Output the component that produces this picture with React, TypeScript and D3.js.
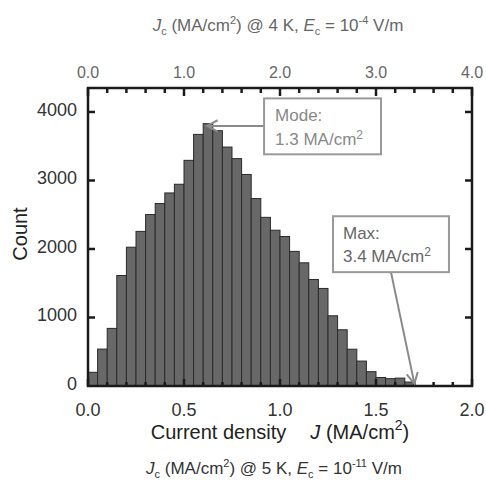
import React from "react";
import * as d3 from "d3";

// ---- data ----
const binStarts = [
  0.0, 0.05, 0.1, 0.15, 0.2, 0.25, 0.3, 0.35, 0.4, 0.45, 0.5, 0.55, 0.6, 0.65, 0.7, 0.75, 0.8,
  0.85, 0.9, 0.95, 1.0, 1.05, 1.1, 1.15, 1.2, 1.25, 1.3, 1.35, 1.4, 1.45, 1.5, 1.55, 1.6, 1.65,
];
const binWidth = 0.05;
const counts = [
  200, 539, 841, 1613, 2026, 2257, 2503, 2663, 2818, 2945, 3294, 3673, 3829, 3727, 3488, 3319,
  3088, 2736, 2462, 2274, 2182, 1965, 1798, 1555, 1424, 1025, 821, 537, 364, 209, 124, 107, 115, 58,
];
const bottomMajorTicks = [0, 0.5, 1.0, 1.5, 2.0];
const bottomTickLabels = ["0.0", "0.5", "1.0", "1.5", "2.0"];
const bottomMinorTicks = [0.1, 0.2, 0.3, 0.4, 0.6, 0.7, 0.8, 0.9, 1.1, 1.2, 1.3, 1.4, 1.6, 1.7, 1.8, 1.9];
const topMajorTicks = [0, 1, 2, 3, 4];
const topTickLabels = ["0.0", "1.0", "2.0", "3.0", "4.0"];
const topMinorTicks = [0.2, 0.4, 0.6, 0.8, 1.2, 1.4, 1.6, 1.8, 2.2, 2.4, 2.6, 2.8, 3.2, 3.4, 3.6, 3.8];
const yTicks = [0, 1000, 2000, 3000, 4000];
const yTickLabels = ["0", "1000", "2000", "3000", "4000"];

// annotations (data units of bottom x axis / count)
const modeLabel = ["Mode:", "1.3 MA/cm"];
const modeBox = { x0: 0.917, x1: 1.526, y0: 4198, y1: 3382 };
const modeTip = { x: 0.62, y: 3797 };
const maxLabel = ["Max:", "3.4 MA/cm"];
const maxBox = { x0: 1.276, x1: 1.88, y0: 2478, y1: 1662 };
const maxStart = { x: 1.578, y: 1662 };
const maxTip = { x: 1.7, y: 35 };

const W = 486;
const H = 480;
const FONT = "'Liberation Sans', Arial, Helvetica, sans-serif";

const x = d3.scaleLinear().domain([0, 2]).range([88, 472]);
const xTop = d3.scaleLinear().domain([0, 4]).range([88, 472]);
const y = d3.scaleLinear().domain([0, 4350]).range([386, 88]);

function ArrowHead({ tx, ty, fx, fy, color }: { tx: number; ty: number; fx: number; fy: number; color: string }) {
  const ang = Math.atan2(ty - fy, tx - fx);
  const len = 12;
  const spread = (28 * Math.PI) / 180;
  const p1 = [tx - len * Math.cos(ang - spread), ty - len * Math.sin(ang - spread)];
  const p2 = [tx - len * Math.cos(ang + spread), ty - len * Math.sin(ang + spread)];
  return (
    <path
      d={`M${p1[0]},${p1[1]} L${tx},${ty} L${p2[0]},${p2[1]}`}
      fill="none"
      stroke={color}
      strokeWidth={2}
    />
  );
}

export default function App() {
  const [x0, x1] = x.range();
  const [yb, yt] = y.range();
  const annColor = "#8a8a8a";
  return (
    <svg
      width={W}
      height={H}
      style={{ position: "absolute", left: 0, top: 0, background: "#fff" }}
      fontFamily={FONT}
    >
      <rect x={0} y={0} width={W} height={H} fill="#fff" />
      {/* bars */}
      {binStarts.map((b, i) => (
        <rect
          key={i}
          x={x(b)}
          y={y(counts[i])}
          width={x(b + binWidth) - x(b)}
          height={y(0) - y(counts[i])}
          fill="#686868"
          stroke="#2a2a2a"
          strokeWidth={1}
        />
      ))}

      {/* ticks bottom */}
      {bottomMinorTicks.map((t) => (
        <line key={"bm" + t} x1={x(t)} x2={x(t)} y1={yb} y2={yb - 4} stroke="#1a1a1a" strokeWidth={2.5} />
      ))}
      {bottomMajorTicks.map((t) => (
        <line key={"bM" + t} x1={x(t)} x2={x(t)} y1={yb} y2={yb - 7} stroke="#1a1a1a" strokeWidth={2.5} />
      ))}
      {/* ticks top */}
      {topMinorTicks.map((t) => (
        <line key={"tm" + t} x1={xTop(t)} x2={xTop(t)} y1={yt} y2={yt + 5} stroke="#1a1a1a" strokeWidth={2.5} />
      ))}
      {topMajorTicks.map((t) => (
        <line key={"tM" + t} x1={xTop(t)} x2={xTop(t)} y1={yt} y2={yt + 8} stroke="#1a1a1a" strokeWidth={2.5} />
      ))}
      {/* y ticks */}
      {yTicks.slice(1).map((t) => (
        <g key={"y" + t}>
          <line x1={x0} x2={x0 + 7} y1={y(t)} y2={y(t)} stroke="#1a1a1a" strokeWidth={2.5} />
          <line x1={x1} x2={x1 - 7} y1={y(t)} y2={y(t)} stroke="#1a1a1a" strokeWidth={2.5} />
        </g>
      ))}

      {/* frame */}
      <rect x={x0} y={yt} width={x1 - x0} height={yb - yt} fill="none" stroke="#1a1a1a" strokeWidth={2.5} />

      {/* tick labels */}
      {bottomMajorTicks.map((t, i) => (
        <text key={"bl" + t} x={x(t)} y={416} textAnchor="middle" fontSize={18} fill="#333">
          {bottomTickLabels[i]}
        </text>
      ))}
      {topMajorTicks.map((t, i) => (
        <text key={"tl" + t} x={xTop(t)} y={78} textAnchor="middle" fontSize={16} fill="#666">
          {topTickLabels[i]}
        </text>
      ))}
      {yTicks.map((t, i) => (
        <text key={"yl" + t} x={77} y={y(t) + 4} textAnchor="end" fontSize={18} fill="#333">
          {yTickLabels[i]}
        </text>
      ))}

      {/* axis titles */}
      <text x={20} y={234} transform="rotate(-90 20 234)" textAnchor="middle" dominantBaseline="central" fontSize={20} fill="#222">
        Count
      </text>
      <text x={280} y={439} textAnchor="middle" fontSize={20} fill="#222">
        <tspan>{"Current density"}</tspan>
        <tspan dx={24} fontStyle="italic">J</tspan>
        <tspan>{" (MA/cm"}</tspan>
        <tspan fontSize={14} dy={-9}>2</tspan>
        <tspan dy={9}>)</tspan>
      </text>
      <text x={278} y={31} textAnchor="middle" fontSize={17} fill="#666">
        <tspan fontStyle="italic">J</tspan>
        <tspan fontSize={11} dy={4}>c</tspan>
        <tspan dy={-4}>{" (MA/cm"}</tspan>
        <tspan fontSize={11} dy={-7}>2</tspan>
        <tspan dy={7}>{") @ 4 K, "}</tspan>
        <tspan fontStyle="italic">E</tspan>
        <tspan fontSize={11} dy={4}>c</tspan>
        <tspan dy={-4}>{" = 10"}</tspan>
        <tspan fontSize={11} dy={-7}>-4</tspan>
        <tspan dy={7}>{" V/m"}</tspan>
      </text>
      <text x={274} y={474} textAnchor="middle" fontSize={17} fill="#333">
        <tspan fontStyle="italic">J</tspan>
        <tspan fontSize={11} dy={4}>c</tspan>
        <tspan dy={-4}>{" (MA/cm"}</tspan>
        <tspan fontSize={11} dy={-7}>2</tspan>
        <tspan dy={7}>{") @ 5 K, "}</tspan>
        <tspan fontStyle="italic">E</tspan>
        <tspan fontSize={11} dy={4}>c</tspan>
        <tspan dy={-4}>{" = 10"}</tspan>
        <tspan fontSize={11} dy={-7}>-11</tspan>
        <tspan dy={7}>{" V/m"}</tspan>
      </text>

      {/* Mode annotation */}
      <line x1={x(modeBox.x0)} y1={y(modeTip.y)} x2={x(modeTip.x)} y2={y(modeTip.y)} stroke={annColor} strokeWidth={2} />
      <ArrowHead tx={x(modeTip.x)} ty={y(modeTip.y)} fx={x(modeBox.x0)} fy={y(modeTip.y)} color={annColor} />
      <rect
        x={x(modeBox.x0)}
        y={y(modeBox.y0)}
        width={x(modeBox.x1) - x(modeBox.x0)}
        height={y(modeBox.y1) - y(modeBox.y0)}
        fill="#fff"
        stroke="#999"
        strokeWidth={2}
      />
      <text x={x(modeBox.x0) + 11} y={y(modeBox.y0) + 23} fontSize={17} fill="#888">
        {modeLabel[0]}
      </text>
      <text x={x(modeBox.x0) + 11} y={y(modeBox.y0) + 46.5} fontSize={17} fill="#888">
        {modeLabel[1]}
        <tspan fontSize={12} dy={-6}>2</tspan>
      </text>

      {/* Max annotation */}
      <line x1={x(maxStart.x)} y1={y(maxStart.y)} x2={x(maxTip.x)} y2={y(maxTip.y)} stroke={annColor} strokeWidth={2} />
      <ArrowHead tx={x(maxTip.x)} ty={y(maxTip.y)} fx={x(maxStart.x)} fy={y(maxStart.y)} color={annColor} />
      <rect
        x={x(maxBox.x0)}
        y={y(maxBox.y0)}
        width={x(maxBox.x1) - x(maxBox.x0)}
        height={y(maxBox.y1) - y(maxBox.y0)}
        fill="#fff"
        stroke="#999"
        strokeWidth={2}
      />
      <text x={x(maxBox.x0) + 10} y={y(maxBox.y0) + 23} fontSize={17} fill="#666">
        {maxLabel[0]}
      </text>
      <text x={x(maxBox.x0) + 10} y={y(maxBox.y0) + 46} fontSize={17} fill="#666">
        {maxLabel[1]}
        <tspan fontSize={12} dy={-6}>2</tspan>
      </text>
    </svg>
  );
}
